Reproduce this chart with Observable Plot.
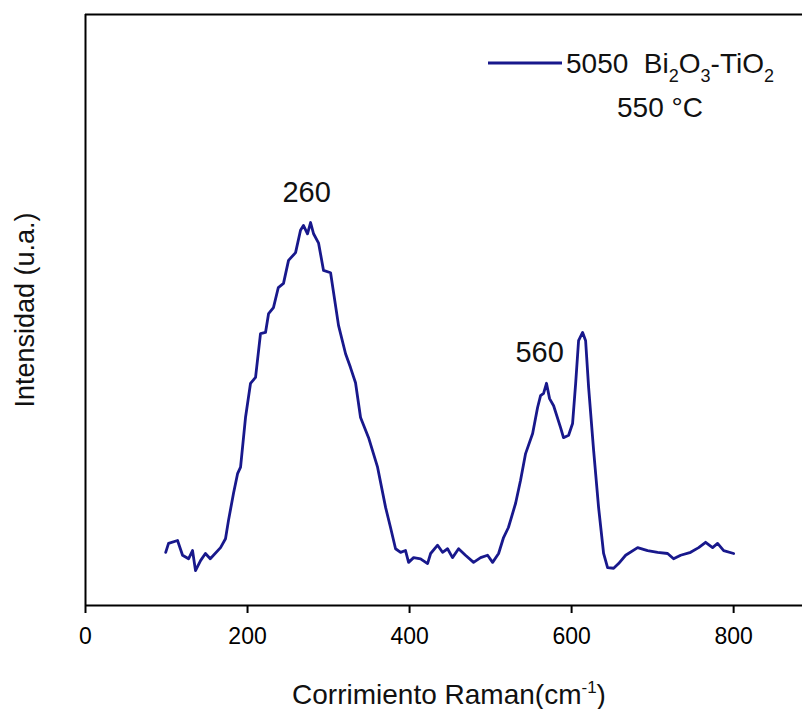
<!DOCTYPE html>
<html>
<head>
<meta charset="utf-8">
<script src="https://cdn.jsdelivr.net/npm/d3@7"></script>
<script src="https://cdn.jsdelivr.net/npm/@observablehq/plot@0.6"></script>
<style>
  html, body { margin: 0; padding: 0; background: #fff; }
  #chart { width: 802px; height: 709px; }
  svg { font-family: "Liberation Sans", Arial, Helvetica, sans-serif; }
</style>
</head>
<body>
<div id="chart"></div>
<script>
// Raman shift (cm^-1)
const wavenumber = [
  99, 102.5, 113.6, 119.8, 127.2, 132.1, 135.8, 142, 148, 154, 166.7, 172.8, 176.5, 182.7, 187.7, 191.4,
  197.5, 203.7, 209.9, 216, 222.2, 226, 232, 238, 244.4, 250.6, 259.3, 265.4, 269, 274, 277.8, 281.5,
  287.7, 293.8, 302.5, 312.3, 321, 327, 333.3, 339.5, 349.4, 360.5, 370.4, 376.5, 382.7, 388.9, 395,
  398.8, 405, 413.6, 422.2, 426, 434.6, 440.7, 446.9, 453, 460.5, 469, 479, 487.7, 496.3, 502.5, 509.9,
  516, 522, 530.9, 537, 543.2, 551.9, 558, 561.7, 565.4, 569, 572.8, 577.8, 586.4, 590, 596.3, 601.2,
  605, 608.6, 613.6, 617.3, 621, 627.2, 633.3, 639.5, 644.4, 651.9, 658, 666.7, 681.5, 693.8, 706.2,
  718.5, 725.9, 734.6, 746.9, 756.8, 765.4, 774, 780.2, 787.7, 800
];
// Intensity (a.u.)
const intensity = [
  9.0, 10.5, 11.0, 8.5, 7.9, 9.3, 5.9, 7.6, 8.8, 7.9, 9.8, 11.3, 14.4, 19.0, 22.3, 23.4,
  31.8, 37.6, 38.6, 46.0, 46.2, 49.4, 50.4, 53.8, 54.5, 58.4, 59.7, 63.5, 64.3, 62.9, 64.8, 62.9,
  61.3, 56.7, 56.3, 47.4, 42.6, 40.3, 37.7, 31.8, 28.4, 23.4, 16.6, 13.2, 9.6, 9.0, 9.3,
  7.3, 8.1, 7.9, 7.1, 8.8, 10.2, 9.0, 9.6, 8.1, 9.6, 8.5, 7.3, 8.1, 8.5, 7.3, 8.8,
  11.5, 13.2, 17.3, 21.2, 25.7, 29.1, 33.5, 35.5, 35.9, 37.6, 35.0, 33.8, 30.1, 28.4, 28.8, 30.8,
  37.6, 44.8, 46.2, 44.8, 36.9, 26.2, 16.6, 8.8, 6.4, 6.3, 7.1, 8.5, 9.8, 9.3, 9.0,
  8.8, 7.9, 8.5, 9.0, 9.8, 10.7, 9.8, 10.5, 9.3, 8.8
];
// Peak annotations
const peakLabels = ["260", "560"];
const peakX = [273, 560.5];
const peakY = [69.8, 42.7];
// Axis ticks
const xTicks = [0, 200, 400, 600, 800];
const xLabel = "Corrimiento Raman(cm";
const yLabel = "Intensidad (u.a.)";
const seriesName = "5050\u00A0\u00A0Bi";
const seriesTemp = "550 °C";

const data = wavenumber.map((w, i) => ({w, v: intensity[i]}));
const peaks = peakLabels.map((t, i) => ({t, x: peakX[i], y: peakY[i]}));

const lineColor = "#18188c";
const font = '"Liberation Sans", Arial, Helvetica, sans-serif';

const plot = Plot.plot({
  width: 802,
  height: 709,
  marginLeft: 85,
  marginRight: 0,
  marginTop: 14,
  marginBottom: 104,
  style: {fontFamily: font, background: "#fff", color: "#000"},
  x: {domain: [0, 885], ticks: xTicks},
  y: {domain: [0, 100], axis: null},
  marks: [
    Plot.ruleY([0], {stroke: "#000", strokeWidth: 2}),
    Plot.ruleY([100], {stroke: "#000", strokeWidth: 2}),
    Plot.ruleX([0], {stroke: "#000", strokeWidth: 2}),
    Plot.axisX(xTicks, {tickSize: 8, tickPadding: 14, fontSize: 23, strokeWidth: 2, label: null, stroke: "#000"}),
    Plot.line(data, {x: "w", y: "v", stroke: lineColor, strokeWidth: 2.8, strokeLinejoin: "round"}),
    Plot.text(peaks, {x: "x", y: "y", text: "t", fontSize: 29, fill: "#111", textAnchor: "middle", lineAnchor: "middle"}),
    Plot.text([yLabel], {frameAnchor: "left", dx: -60, rotate: -90, fontSize: 27, fill: "#111", textAnchor: "middle"})
  ]
});

document.getElementById("chart").appendChild(plot);

const svg = d3.select(plot);
// X-axis label with superscript
const xl = svg.append("text")
  .attr("x", 449).attr("y", 704)
  .attr("text-anchor", "middle")
  .attr("font-size", 28).attr("fill", "#111")
  .attr("font-family", font);
xl.append("tspan").text(xLabel);
xl.append("tspan").attr("dy", -11).attr("font-size", 17).text("-1");
xl.append("tspan").attr("dy", 11).text(")");

// Legend
svg.append("line")
  .attr("x1", 488).attr("x2", 562).attr("y1", 63).attr("y2", 63)
  .attr("stroke", lineColor).attr("stroke-width", 2.8);
const lt = svg.append("text")
  .attr("x", 566).attr("y", 73)
  .attr("text-anchor", "start")
  .attr("font-size", 28).attr("fill", "#111")
  .attr("font-family", font);
lt.append("tspan").text(seriesName);
lt.append("tspan").attr("dy", 9).attr("font-size", 18).text("2");
lt.append("tspan").attr("dy", -9).text("O");
lt.append("tspan").attr("dy", 9).attr("font-size", 18).text("3");
lt.append("tspan").attr("dy", -9).text("-TiO");
lt.append("tspan").attr("dy", 9).attr("font-size", 18).text("2");
svg.append("text")
  .attr("x", 660).attr("y", 117)
  .attr("text-anchor", "middle")
  .attr("font-size", 28).attr("fill", "#111")
  .attr("font-family", font)
  .text(seriesTemp);
</script>
</body>
</html>
